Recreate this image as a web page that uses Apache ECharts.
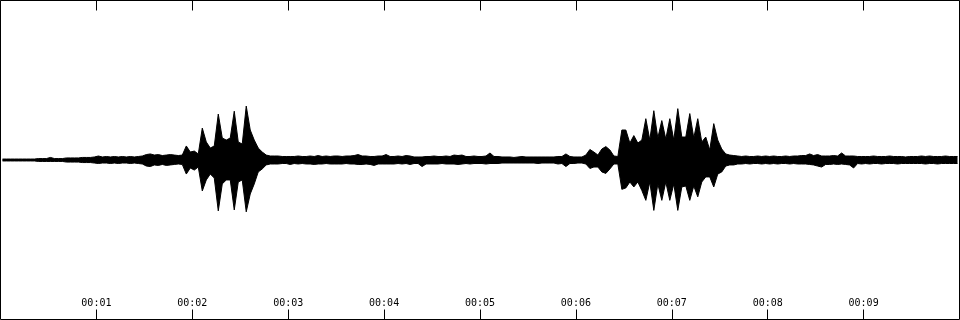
<!DOCTYPE html>
<html><head><meta charset="utf-8">
<script src="https://cdn.jsdelivr.net/npm/echarts@6/dist/echarts.min.js"></script>
<style>html,body{margin:0;padding:0;background:#fff}#c{width:960px;height:320px}</style>
</head><body><div id="c"></div>
<script>
// Waveform envelope: one bin per 1/24 s, 240 bins over 10 s, normalised amplitude (-1..1)
const binSeconds = 1 / 24;
const durationSeconds = 10;
const tickLabels = ['00:01','00:02','00:03','00:04','00:05','00:06','00:07','00:08','00:09'];

const envMax = [
  0.006,0.006,0.006,0.006,0.006,0.006,0.006,0.006,0.006,0.009,0.009,0.009,
  0.016,0.009,0.009,0.009,0.013,0.013,0.013,0.013,0.016,0.016,0.016,0.019,
  0.025,0.019,0.022,0.019,0.022,0.019,0.022,0.019,0.022,0.019,0.022,0.025,
  0.034,0.038,0.031,0.034,0.028,0.031,0.034,0.031,0.028,0.031,0.088,0.050,
  0.056,0.038,0.200,0.113,0.075,0.088,0.288,0.138,0.125,0.138,0.306,0.113,
  0.100,0.338,0.188,0.125,0.075,0.050,0.031,0.025,0.025,0.025,0.022,0.022,
  0.022,0.022,0.025,0.022,0.022,0.025,0.022,0.028,0.022,0.025,0.022,0.025,
  0.025,0.022,0.025,0.025,0.028,0.034,0.025,0.025,0.022,0.022,0.025,0.025,
  0.034,0.022,0.022,0.025,0.022,0.028,0.025,0.019,0.019,0.019,0.022,0.022,
  0.025,0.022,0.022,0.025,0.022,0.031,0.028,0.031,0.022,0.022,0.025,0.022,
  0.022,0.025,0.044,0.022,0.022,0.019,0.019,0.019,0.016,0.019,0.022,0.019,
  0.019,0.019,0.019,0.019,0.019,0.019,0.019,0.022,0.022,0.038,0.022,0.019,
  0.019,0.019,0.031,0.066,0.050,0.031,0.069,0.084,0.063,0.025,0.022,0.188,
  0.188,0.106,0.153,0.106,0.125,0.259,0.125,0.309,0.138,0.247,0.131,0.259,
  0.125,0.322,0.144,0.144,0.291,0.138,0.259,0.113,0.144,0.063,0.228,0.125,
  0.069,0.038,0.031,0.028,0.025,0.022,0.025,0.022,0.022,0.025,0.022,0.025,
  0.022,0.025,0.022,0.022,0.025,0.022,0.025,0.025,0.028,0.028,0.038,0.028,
  0.034,0.025,0.025,0.025,0.028,0.025,0.044,0.025,0.025,0.025,0.022,0.022,
  0.022,0.022,0.025,0.022,0.022,0.022,0.025,0.022,0.022,0.022,0.019,0.022,
  0.022,0.022,0.025,0.022,0.025,0.022,0.022,0.022,0.025,0.022,0.022,0.022
];

const envMin = [
  -0.006,-0.006,-0.006,-0.006,-0.006,-0.006,-0.006,-0.006,-0.006,-0.009,-0.009,-0.009,
  -0.009,-0.009,-0.009,-0.009,-0.013,-0.013,-0.013,-0.013,-0.016,-0.016,-0.016,-0.019,
  -0.022,-0.019,-0.019,-0.022,-0.019,-0.022,-0.019,-0.019,-0.022,-0.019,-0.022,-0.025,
  -0.038,-0.041,-0.031,-0.034,-0.028,-0.034,-0.031,-0.028,-0.025,-0.028,-0.088,-0.050,
  -0.063,-0.044,-0.194,-0.125,-0.088,-0.113,-0.319,-0.150,-0.125,-0.125,-0.313,-0.138,
  -0.125,-0.325,-0.213,-0.150,-0.075,-0.056,-0.031,-0.025,-0.025,-0.025,-0.022,-0.022,
  -0.028,-0.022,-0.025,-0.022,-0.025,-0.025,-0.028,-0.025,-0.025,-0.022,-0.025,-0.025,
  -0.025,-0.025,-0.022,-0.025,-0.025,-0.028,-0.028,-0.025,-0.028,-0.034,-0.025,-0.025,
  -0.025,-0.025,-0.025,-0.022,-0.025,-0.022,-0.028,-0.022,-0.022,-0.041,-0.025,-0.025,
  -0.025,-0.025,-0.022,-0.025,-0.025,-0.025,-0.028,-0.025,-0.022,-0.025,-0.022,-0.022,
  -0.022,-0.025,-0.022,-0.022,-0.022,-0.019,-0.019,-0.019,-0.019,-0.019,-0.019,-0.019,
  -0.019,-0.019,-0.022,-0.019,-0.019,-0.019,-0.019,-0.025,-0.022,-0.041,-0.022,-0.022,
  -0.019,-0.019,-0.025,-0.053,-0.044,-0.044,-0.075,-0.084,-0.056,-0.025,-0.025,-0.184,
  -0.175,-0.138,-0.169,-0.138,-0.191,-0.253,-0.138,-0.316,-0.150,-0.253,-0.138,-0.253,
  -0.150,-0.316,-0.169,-0.163,-0.253,-0.163,-0.231,-0.138,-0.106,-0.106,-0.169,-0.088,
  -0.075,-0.038,-0.031,-0.031,-0.025,-0.025,-0.022,-0.025,-0.022,-0.022,-0.025,-0.022,
  -0.025,-0.022,-0.025,-0.022,-0.022,-0.025,-0.022,-0.025,-0.025,-0.025,-0.028,-0.031,
  -0.038,-0.044,-0.028,-0.028,-0.025,-0.028,-0.025,-0.028,-0.031,-0.050,-0.022,-0.025,
  -0.022,-0.025,-0.022,-0.022,-0.025,-0.022,-0.022,-0.022,-0.025,-0.022,-0.022,-0.022,
  -0.022,-0.022,-0.022,-0.025,-0.022,-0.022,-0.025,-0.022,-0.022,-0.022,-0.022,-0.022
];

const binCenter = i => (i + 0.5) * binSeconds;
const upperData = envMax.map((v, i) => [binCenter(i), v]);
const lowerData = envMin.map((v, i) => [binCenter(i), v]);

const chart = echarts.init(document.getElementById('c'), null, { renderer: 'canvas' });

const tickFmt = v => tickLabels[Math.round(v) - 1] || '';

const envSeries = data => ({
  type: 'line',
  data: data,
  symbol: 'none',
  silent: true,
  clip: true,
  lineStyle: { color: '#000', width: 1 },
  areaStyle: { color: '#000', opacity: 1, origin: 0 }
});

chart.setOption({
  animation: false,
  backgroundColor: '#fff',
  grid: { left: 0.5, top: 0.5, right: 0.5, bottom: 0.5, show: true, borderColor: '#000', borderWidth: 1, containLabel: false, outerBoundsMode: 'none' },
  xAxis: [
    {
      type: 'value', min: 0, max: durationSeconds, interval: 1, position: 'bottom',
      axisLine: { show: false, onZero: false },
      axisTick: { show: true, inside: true, length: 10, lineStyle: { color: '#000', width: 1 } },
      axisLabel: { show: true, inside: true, margin: 11, formatter: tickFmt, showMinLabel: false, showMaxLabel: false,
                   fontFamily: 'DejaVu Sans Mono', fontSize: 10, color: '#000' },
      splitLine: { show: false }
    },
    {
      type: 'value', min: 0, max: durationSeconds, interval: 1, position: 'top',
      axisLine: { show: false, onZero: false },
      axisTick: { show: true, inside: true, length: 10, lineStyle: { color: '#000', width: 1 } },
      axisLabel: { show: false },
      splitLine: { show: false }
    }
  ],
  yAxis: { type: 'value', min: -1, max: 1, show: false, splitLine: { show: false } },
  series: [envSeries(upperData), envSeries(lowerData)]
});
</script>
</body></html>
